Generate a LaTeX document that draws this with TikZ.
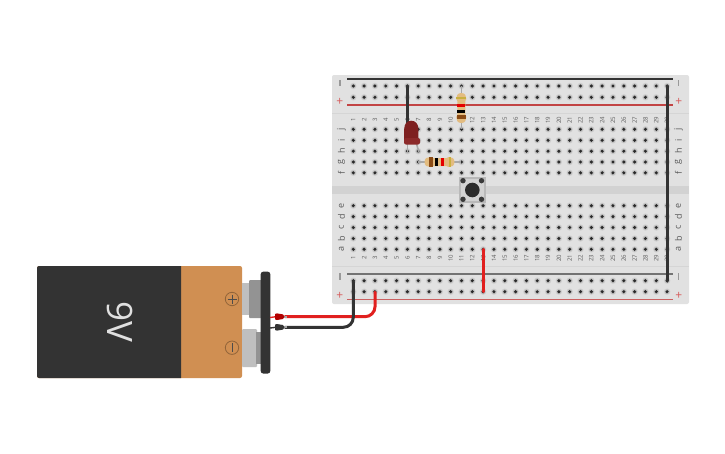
\documentclass[tikz,border=0pt]{standalone}
\usepackage{fontspec}
\setmainfont{Open Sans}
\definecolor{board}{HTML}{E1E1E1}
\definecolor{band}{HTML}{D2D2D2}
\definecolor{sep}{HTML}{D5D5D5}
\definecolor{halo}{HTML}{D3D3D3}
\definecolor{haloin}{HTML}{BDBDBD}
\definecolor{holec}{HTML}{2A2A2A}
\definecolor{railred}{HTML}{C24444}
\definecolor{signred}{HTML}{D65A5A}
\definecolor{labelc}{HTML}{5A5A5A}
\definecolor{wirered}{HTML}{E1201F}
\definecolor{wiredark}{HTML}{333333}
\definecolor{orangeb}{HTML}{D08F52}
\definecolor{tanb}{HTML}{E3BC80}
\definecolor{leadc}{HTML}{A8A8A8}
\definecolor{brownb}{HTML}{8A4B16}
\definecolor{goldb}{HTML}{C9B040}
\definecolor{ledred}{HTML}{7E2020}
\definecolor{ledrim}{HTML}{8C2A2A}
\tikzset{
  x=1pt,y=-1pt,
  hole/.pic={\fill[halo] (0,0) circle (3.3);\fill[haloin] (0,0) circle (2.5);\fill[holec] (0,0) circle (1.7);},
  numlabel/.style={font=\fontsize{6}{6}\selectfont,text=labelc,rotate=90,inner sep=0},
  letlabel/.style={font=\fontsize{9}{9}\selectfont,text=labelc,rotate=90,inner sep=0},
  railsign/.style={font=\fontsize{12}{12}\selectfont,inner sep=0,text=signred},
  jumper/.style={line width=3pt,line cap=round},
  lead/.style={line width=1.6pt,color=leadc},
  wirebig/.style={line width=3pt,rounded corners=10pt,line cap=round},
}
\newcommand{\resistorbody}{%
  \fill[tanb] (-15,0) .. controls (-15,-4) and (-12,-5) .. (-9,-5) -- (-7,-4) -- (7,-4) -- (9,-5) .. controls (12,-5) and (15,-4) .. (15,0) .. controls (15,4) and (12,5) .. (9,5) -- (7,4) -- (-7,4) -- (-9,5) .. controls (-12,5) and (-15,4) .. (-15,0) -- cycle;
  \fill[brownb] (-11,-4.8) rectangle (-7,4.8);
  \fill[black] (-5,-4) rectangle (-2,4);
  \fill[red!90!black] (1,-4) rectangle (4,4);
  \fill[goldb] (9,-5) rectangle (11,5);
}
\begin{document}
\begin{tikzpicture}
\useasboundingbox (0,0) rectangle (725,453);
\fill[white] (0,0) rectangle (725,453);
% board
\fill[board,rounded corners=2pt] (332,75) rectangle (689,304);
\fill[band] (332,185.5) rectangle (689,194);
\draw[sep,line width=0.8pt] (332,113.3) -- (689,113.3);
\draw[sep,line width=0.8pt] (332,266) -- (689,266);
\draw[wiredark,line width=1.3pt] (347,79) -- (673,79);
\draw[railred,line width=1.3pt] (347,105) -- (673,105);
\draw[gray!90!black,line width=1.3pt] (347,274) -- (673,274);
\draw[railred!85!white,line width=1.3pt] (347,299.5) -- (673,299.5);
\foreach \x/\y in {339.8/83,678.2/83,339.8/276.5,678.2/276.5}
  \fill[gray!80] (\x-0.7,\y-3.3) rectangle (\x+0.7,\y+3.3);
\node[railsign] (pa) at (339.7,102) {+};
\node[railsign] (pb) at (678.7,102) {+};
\node[railsign] (pc) at (339.7,296) {+};
\node[railsign] (pd) at (678.7,296) {+};
% holes
\foreach \c in {1,...,30}{
  \pgfmathsetmacro{\hx}{353.3+(\c-1)*10.82}
  \foreach \hy in {86,97.3,129.3,140.3,151.2,162,172.8,205.7,216.6,227.5,238.5,249.3,280.7,291.7}
    \pic at (\hx,\hy) {hole};
  \node[numlabel] (nt\c) at (\hx,120) {\c};
  \node[numlabel] (nb\c) at (\hx,258) {\c};
}
\foreach \l/\y in {j/129.3,i/140.3,h/151.2,g/162,f/172.8,e/205.7,d/216.6,c/227.5,b/238.5,a/249.3}{
  \node[letlabel] (ll\l) at (341.5,\y) {\l};
  \node[letlabel] (lr\l) at (678.5,\y) {\l};
}
% named connection points
\coordinate (a1) at (353.3,281.5);
\coordinate (a3) at (375,292);
\coordinate (t6) at (407.4,86);
\coordinate (t30) at (667,86);
\coordinate (b30) at (667,281);
\coordinate (h13a) at (483,249.3);
\coordinate (h13b) at (483,291.7);
\coordinate (r1a) at (461.3,86);
\coordinate (r1b) at (461.3,129.3);
\coordinate (r2a) at (418.2,162);
\coordinate (r2b) at (461.3,162);
% resistors
\draw[lead] (r1a) -- (r1b);
\begin{scope}[shift={(461.3,108)},rotate=90,x=1pt,y=1pt]
  \resistorbody
\end{scope}
\draw[lead] (r2a) -- (r2b);
\begin{scope}[shift={(439.5,162)},x=1pt,y=1pt]
  \resistorbody
\end{scope}
% LED
\draw[wiredark,jumper] (t6) -- (407.4,125);
\draw[lead] (407.4,142) -- (407.4,152.5);
\draw[lead] (416,142) -- (419,152.5);
\fill[ledred] (404.2,142) -- (404.2,129) .. controls (404.2,124) and (407,120.7) .. (411.2,120.7) .. controls (415.5,120.7) and (418.4,124) .. (418.4,129) -- (418.4,142) -- cycle;
\fill[ledrim,rounded corners=2pt] (404,138) rectangle (420,144.5);
% jumpers
\draw[wiredark,jumper] (t30) -- (b30);
\draw[wirered,jumper] (h13a) -- (h13b);
% pushbutton
\fill[gray!55] (459.3,177.3) rectangle (485.7,203);
\fill[gray!35] (461,179) rectangle (484,201.3);
\fill[holec] (472.3,190) circle (7.3);
\foreach \x/\y in {463/180.7,481.5/180.7,463/199.3,481.5/199.3}
  \fill[gray!45!black] (\x,\y) circle (2.7);
% battery
\fill[orangeb,rounded corners=2pt] (37,266) rectangle (242,378);
\begin{scope}
  \clip (30,260) rectangle (181,385);
  \fill[wiredark,rounded corners=2pt] (37,266) rectangle (242,378);
\end{scope}
\node[font=\fontsize{35}{35}\selectfont,text=white!88!black,rotate=-90,inner sep=0] (nine) at (120,322) {9V};
\draw[black!30!orangeb,line width=0.8pt] (232,299) circle (6.7);
\draw[black!30!orangeb,line width=0.8pt] (232,347.7) circle (6.7);
\draw[black!70,line width=1pt] (227.5,299) -- (236.5,299) (232,294.5) -- (232,303.5);
\draw[black!70,line width=1pt] (232,343.2) -- (232,352.2);
% terminals
\fill[gray!50] (242,283.3) rectangle (250,315);
\fill[gray!85,rounded corners=1pt] (249,280) rectangle (262,318);
\fill[gray!50,rounded corners=1pt] (242,329) rectangle (257,367);
\fill[gray!85] (256,332) rectangle (262,364);
% clip bar
\fill[wiredark,rounded corners=2.5pt] (260.7,271.7) rectangle (270.3,373.5);
% wires
\coordinate (cr) at (285,316.7);
\coordinate (cb) at (285,327.3);
\draw[wirered,wirebig] (cr) -- (375,316.7) -- (a3);
\draw[wiredark,wirebig] (cb) -- (353.3,327.3) -- (a1);
\draw[gray!70,line width=2.2pt] (283,316.7) -- (287,316.7) (283,327.3) -- (287,327.3);
\draw[wirered,line width=1.4pt] (270,317.5) -- (276,316.7);
\fill[red!70!black] (275,314) -- (277,313.4) -- (283,314.4) -- (284.5,316.7) -- (283,319) -- (277,320) -- (275,319.4) -- cycle;
\draw[wiredark,line width=1.4pt] (270,328) -- (276,327.3);
\fill[wiredark] (275,324.6) -- (277,324) -- (283,325) -- (284.5,327.3) -- (283,329.6) -- (277,330.6) -- (275,330) -- cycle;
\end{tikzpicture}
\end{document}
